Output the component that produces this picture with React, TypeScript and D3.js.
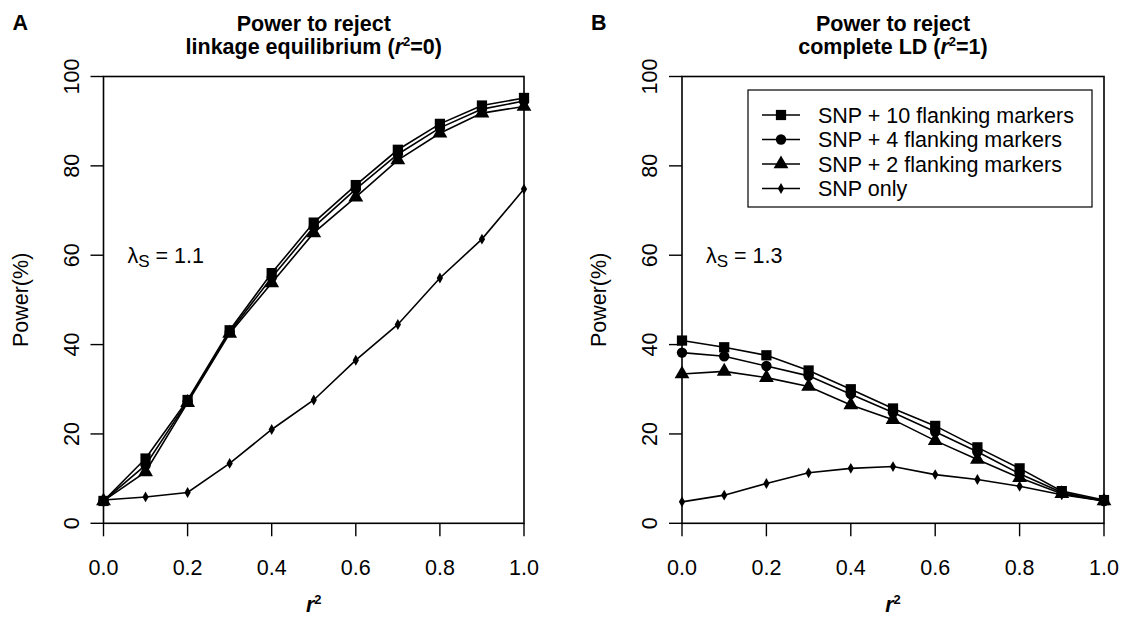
import React from "react";
import * as d3 from "d3";

// ---- data ----
const r2Values = [0, 0.1, 0.2, 0.3, 0.4, 0.5, 0.6, 0.7, 0.8, 0.9, 1.0];
const xTicks = [0, 0.2, 0.4, 0.6, 0.8, 1.0];
const yTicks = [0, 20, 40, 60, 80, 100];

const seriesNames = [
  "SNP + 10 flanking markers",
  "SNP + 4 flanking markers",
  "SNP + 2 flanking markers",
  "SNP only",
];

// Panel A: power to reject linkage equilibrium (lambda_S = 1.1)
const aSnp10 = [5, 14.5, 27.6, 43.2, 56.0, 67.3, 75.7, 83.6, 89.4, 93.5, 95.2];
const aSnp4 = [5, 13.0, 27.3, 42.8, 55.0, 66.3, 74.8, 82.6, 88.5, 92.7, 94.5];
const aSnp2 = [5, 11.5, 27.0, 42.5, 53.8, 65.0, 73.0, 81.3, 87.3, 91.8, 93.3];
const aSnpOnly = [5.2, 5.9, 6.9, 13.4, 21.0, 27.6, 36.5, 44.5, 54.9, 63.6, 74.8];

// Panel B: power to reject complete LD (lambda_S = 1.3)
const bSnp10 = [40.9, 39.4, 37.6, 34.2, 30.0, 25.7, 21.8, 17.0, 12.3, 7.2, 5.2];
const bSnp4 = [38.2, 37.4, 35.2, 33.0, 28.9, 24.8, 20.5, 16.0, 11.1, 6.9, 5.0];
const bSnp2 = [33.4, 34.0, 32.6, 30.6, 26.5, 23.2, 18.5, 14.3, 10.2, 6.6, 5.0];
const bSnpOnly = [4.8, 6.3, 8.9, 11.3, 12.3, 12.7, 10.9, 9.8, 8.3, 6.4, 5.0];

const FONT = "'Liberation Sans', Arial, Helvetica, sans-serif";
const FS = 21.5;

const symbolTypes = [d3.symbolSquare, d3.symbolCircle, d3.symbolTriangle, d3.symbolDiamond];
const symbolSizes = [105, 85, 95, 34];

type PanelDef = {
  letter: string;
  left: number;
  right: number;
  title2: React.ReactNode;
  lambda: string;
  series: number[][];
  legend: boolean;
};

const top = 76.5;
const bottom = 523.3;

function Panel({ p }: { p: PanelDef }) {
  const x = d3.scaleLinear().domain([0, 1]).range([p.left, p.right]);
  const y = d3.scaleLinear().domain([0, 100]).range([bottom, top]);
  const line = d3
    .line<number>()
    .x((_, i) => x(r2Values[i]))
    .y((d) => y(d));
  const cx = (p.left + p.right) / 2;
  const tick = 13;
  return (
    <g>
      <text x={p.left - 91} y={30} fontFamily={FONT} fontWeight="bold" fontSize={FS}>
        {p.letter}
      </text>
      <text x={cx} y={31} textAnchor="middle" fontFamily={FONT} fontWeight="bold" fontSize={FS}>
        Power to reject
      </text>
      <text x={cx} y={54} textAnchor="middle" fontFamily={FONT} fontWeight="bold" fontSize={FS}>
        {p.title2}
      </text>
      {/* frame */}
      <rect
        x={p.left}
        y={top}
        width={p.right - p.left}
        height={bottom - top}
        fill="none"
        stroke="#000"
        strokeWidth={1.6}
      />
      {/* y ticks */}
      {yTicks.map((t) => (
        <g key={"y" + t}>
          <line x1={p.left - tick} x2={p.left} y1={y(t)} y2={y(t)} stroke="#000" strokeWidth={1.4} />
          <text
            transform={`translate(${p.left - 25},${y(t)}) rotate(-90)`}
            textAnchor="middle"
            fontFamily={FONT}
            fontSize={FS}
          >
            {t}
          </text>
        </g>
      ))}
      {/* x ticks */}
      {xTicks.map((t) => (
        <g key={"x" + t}>
          <line x1={x(t)} x2={x(t)} y1={bottom} y2={bottom + tick} stroke="#000" strokeWidth={1.4} />
          <text x={x(t)} y={575} textAnchor="middle" fontFamily={FONT} fontSize={FS}>
            {t.toFixed(1)}
          </text>
        </g>
      ))}
      <text
        transform={`translate(${p.left - 76},${(top + bottom) / 2}) rotate(-90)`}
        textAnchor="middle"
        fontFamily={FONT}
        fontSize={FS}
      >
        Power(%)
      </text>
      <text x={cx} y={612} textAnchor="middle" fontFamily={FONT} fontSize={FS} fontWeight="bold" fontStyle="italic">
        r
        <tspan fontSize={13} dy={-8} fontStyle="normal">
          2
        </tspan>
      </text>
      {/* lambda label */}
      <text x={p.left + 24} y={263} fontFamily={FONT} fontSize={FS}>
        λ
        <tspan fontSize={17} dy={4}>
          S
        </tspan>
        <tspan dy={-4}> = {p.lambda}</tspan>
      </text>
      {/* series */}
      {p.series.map((s, si) => (
        <g key={"s" + si}>
          <path d={line(s) || ""} fill="none" stroke="#000" strokeWidth={1.6} />
          {s.map((v, i) => (
            <path
              key={i}
              d={d3.symbol().type(symbolTypes[si]).size(symbolSizes[si])() || ""}
              transform={`translate(${x(r2Values[i])},${y(v)})`}
              fill="#000"
            />
          ))}
        </g>
      ))}
      {p.legend && (
        <g>
          <rect x={748} y={90} width={344} height={117} fill="#fff" stroke="#000" strokeWidth={1.2} />
          {seriesNames.map((n, i) => {
            const ly = 115 + i * 24.5;
            return (
              <g key={n}>
                <line x1={762} x2={800} y1={ly} y2={ly} stroke="#000" strokeWidth={1.6} />
                <path
                  d={d3.symbol().type(symbolTypes[i]).size(symbolSizes[i])() || ""}
                  transform={`translate(781,${ly})`}
                  fill="#000"
                />
                <text x={818} y={ly + 7.5} fontFamily={FONT} fontSize={FS}>
                  {n}
                </text>
              </g>
            );
          })}
        </g>
      )}
    </g>
  );
}

export default function App() {
  const panels: PanelDef[] = [
    {
      letter: "A",
      left: 103.5,
      right: 524,
      title2: (
        <>
          linkage equilibrium (
          <tspan fontStyle="italic">r</tspan>
          <tspan fontSize={13} dy={-8}>2</tspan>
          <tspan dy={8}>=0)</tspan>
        </>
      ),
      lambda: "1.1",
      series: [aSnp10, aSnp4, aSnp2, aSnpOnly],
      legend: false,
    },
    {
      letter: "B",
      left: 682,
      right: 1104,
      title2: (
        <>
          complete LD (
          <tspan fontStyle="italic">r</tspan>
          <tspan fontSize={13} dy={-8}>2</tspan>
          <tspan dy={8}>=1)</tspan>
        </>
      ),
      lambda: "1.3",
      series: [bSnp10, bSnp4, bSnp2, bSnpOnly],
      legend: true,
    },
  ];
  return (
    <svg
      width={1121}
      height={622}
      style={{ position: "absolute", left: 0, top: 0, background: "#fff" }}
    >
      <rect width={1121} height={622} fill="#fff" />
      {panels.map((p) => (
        <Panel key={p.letter} p={p} />
      ))}
    </svg>
  );
}
